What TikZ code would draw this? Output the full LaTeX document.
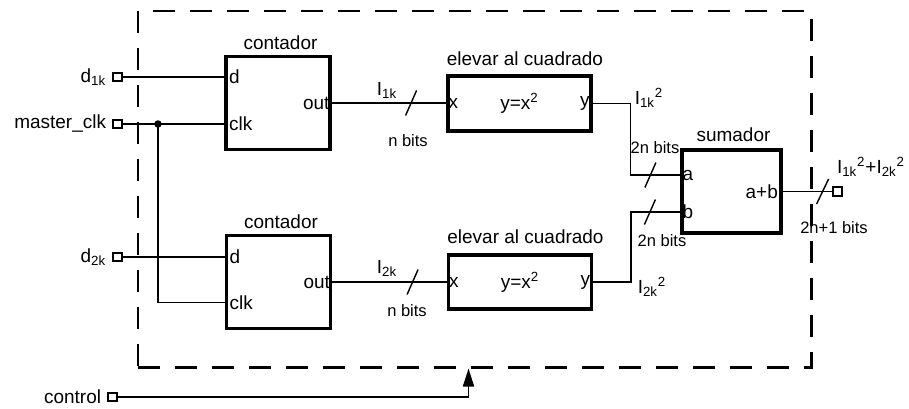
\documentclass[tikz,border=0pt]{standalone}
\usepackage{fontspec}
\setmainfont{Liberation Sans}
\usetikzlibrary{arrows.meta,positioning}
\tikzset{
    circuitblock/.style={
        draw=black,
        line width=1.8pt,
        minimum width=2.08cm,
        minimum height=1.86cm,
        inner sep=0pt,
        font=\fontsize{10.8}{13}\selectfont
    },
    circuittitle/.style={
        inner sep=0pt,
        font=\fontsize{10.8}{13}\selectfont
    },
    circuitport/.style={
        inner sep=2.5pt,
        font=\fontsize{10.8}{13}\selectfont
    },
    circuitpin/.style={
        draw=black,
        line width=0.95pt,
        minimum size=0.17cm,
        inner sep=0pt
    },
    circuitwire/.style={
        draw=black,
        line width=0.95pt
    },
    clockdot/.style={
        circle,
        fill=black,
        minimum size=0.15cm,
        inner sep=0pt
    },
    controlarrow/.style={
        circuitwire,
        -{Triangle[length=3.6mm,width=2.2mm]}
    },
    boundary/.style={
        draw=black,
        line width=1.7pt,
        dash pattern=on 0.44cm off 0.3cm,
        minimum width=13.46cm,
        minimum height=7.12cm,
        inner sep=0pt
    }
}

\begin{document}
\begin{tikzpicture}[
        busmark/.style={draw=black,line width=0.8pt},
        buslabel/.style={inner sep=0pt,font=\fontsize{9.4}{11}\selectfont}
    ]
        \useasboundingbox (0,0) rectangle (18.18,-8.16);

        \node[boundary] (system) at (9.49,-3.78) {};

        \node[circuitblock] (counterone) at (5.56,-2.06) {};
        \node[circuitblock] (countertwo) at (5.57,-5.64) {};
        \node[circuitblock,minimum width=2.86cm,minimum height=1.1cm] (squareone) at (10.39,-2.07)
            {y=x\textsuperscript{2}};
        \node[circuitblock,minimum width=2.86cm,minimum height=1.08cm] (squaretwo) at (10.40,-5.64)
            {y=x\textsuperscript{2}};
        \node[circuitblock,minimum width=1.98cm,minimum height=1.66cm] (adder) at (14.63,-3.83) {};

        \node[circuittitle,above=0.09cm of counterone,xshift=0.05cm] (counteronetitle) {contador};
        \node[circuittitle,above=0.1cm of countertwo,xshift=0.05cm] (countertwotitle) {contador};
        \node[circuittitle,above=0.17cm of squareone,xshift=0.11cm] (squareonetitle) {elevar al cuadrado};
        \node[circuittitle,above=0.19cm of squaretwo,xshift=0.11cm] (squaretwotitle) {elevar al cuadrado};
        \node[circuittitle,above=0.13cm of adder,xshift=0.04cm] (addertitle) {sumador};

        \node[circuitpin] (dinone) at (2.35,-1.54) {};
        \node[circuitpin] (masterclk) at (2.35,-2.48) {};
        \node[circuitpin] (dintwo) at (2.35,-5.14) {};
        \node[circuitpin] (control) at (2.25,-7.94) {};
        \node[circuitpin] (sumout) at (16.75,-3.83) {};

        \node[circuittitle,left=0.12cm of dinone] (dinonelabel) {d\textsubscript{1k}};
        \node[circuittitle,left=0.12cm of masterclk] (masterclklabel) {master\_clk};
        \node[circuittitle,left=0.12cm of dintwo] (dintwolabel) {d\textsubscript{2k}};
        \node[circuittitle,left=0.12cm of control] (controllabel) {control};

        \node[circuitport,anchor=west] (counteroned) at (dinone -| counterone.west) {d};
        \node[circuitport,anchor=west] (counteroneclk) at (masterclk -| counterone.west) {clk};
        \node[circuitport,anchor=east,inner sep=1pt] (counteroneout) at (counterone.east) {out};
        \node[circuitport,anchor=west] (countertwod) at (dintwo -| countertwo.west) {d};
        \node[circuitport,anchor=west] (countertwoclk) at ([yshift=-0.41cm]countertwo.west) {clk};
        \node[circuitport,anchor=east,inner sep=1pt] (countertwoout) at (countertwo.east) {out};
        \node[circuitport,anchor=west,inner sep=1pt] (squareonex) at (squareone.west) {x};
        \node[circuitport,anchor=east,inner sep=1.5pt] (squareoney) at (squareone.east) {y};
        \node[circuitport,anchor=west,inner sep=1pt] (squaretwox) at (squaretwo.west) {x};
        \node[circuitport,anchor=east,inner sep=1.5pt] (squaretwoy) at (squaretwo.east) {y};
        \node[circuitport,anchor=west,inner sep=1pt] (addera) at ([yshift=0.33cm]adder.west) {a};
        \node[circuitport,anchor=west,inner sep=1pt] (adderb) at ([yshift=-0.41cm]adder.west) {b};
        \node[circuitport,anchor=east] (addersum) at (adder.east) {a+b};

        \draw[circuitwire] (dinone.east) -- (dinone -| counterone.west);
        \draw[circuitwire] (masterclk.east) -- (masterclk -| counterone.west);
        \draw[circuitwire] (dintwo.east) -- (dintwo -| countertwo.west);
        \node[clockdot] (clocktap) at (3.16,-2.48) {};
        \draw[circuitwire] (clocktap.center) |- ([yshift=-0.41cm]countertwo.west);
        \draw[circuitwire] (counterone.east) -- (counterone.east -| squareone.west);
        \draw[circuitwire] (countertwo.east) -- (countertwo.east -| squaretwo.west);
        \draw[circuitwire] (squareone.east) -- ++(0.76,0) |- ([yshift=0.33cm]adder.west);
        \draw[circuitwire] (squaretwo.east) -- ++(0.76,0) |- ([yshift=-0.41cm]adder.west);
        \draw[circuitwire] (adder.east) -- (sumout.west);
        \draw[controlarrow] (control.east) -| ([xshift=-0.12cm]system.south);

        \draw[busmark] ([xshift=1.59cm]counterone.east) +(-0.11,-0.25) -- +(0.11,0.25);
        \draw[busmark] ([xshift=1.61cm]countertwo.east) +(-0.11,-0.25) -- +(0.11,0.25);
        \draw[busmark] ([xshift=-0.6cm,yshift=0.33cm]adder.west) +(-0.11,-0.25) -- +(0.11,0.25);
        \draw[busmark] ([xshift=-0.61cm,yshift=-0.41cm]adder.west) +(-0.11,-0.25) -- +(0.11,0.25);
        \draw[busmark] ([xshift=0.8cm]adder.east) +(-0.12,-0.25) -- +(0.12,0.25);

        \node[circuittitle] (busoneword) at (7.74,-1.80) {I\textsubscript{1k}};
        \node[buslabel] (busonebits) at (8.16,-2.82) {n bits};
        \node[circuittitle] (bustwoword) at (7.74,-5.36) {I\textsubscript{2k}};
        \node[buslabel] (bustwobits) at (8.14,-6.22) {n bits};
        \node[circuittitle] (squareoneword) at (12.98,-1.96) {I\textsubscript{1k}\textsuperscript{2}};
        \node[buslabel] (squareonebits) at (13.10,-2.96) {2n bits};
        \node[circuittitle] (squaretwoword) at (13.04,-5.74) {I\textsubscript{2k}\textsuperscript{2}};
        \node[buslabel] (squaretwobits) at (13.24,-4.82) {2n bits};
        \node[circuittitle] (sumword) at (17.42,-3.34)
            {I\textsubscript{1k}\textsuperscript{2}+I\textsubscript{2k}\textsuperscript{2}};
        \node[buslabel] (sumbits) at (16.68,-4.56) {2n+1 bits};
    \end{tikzpicture}
\end{document}
